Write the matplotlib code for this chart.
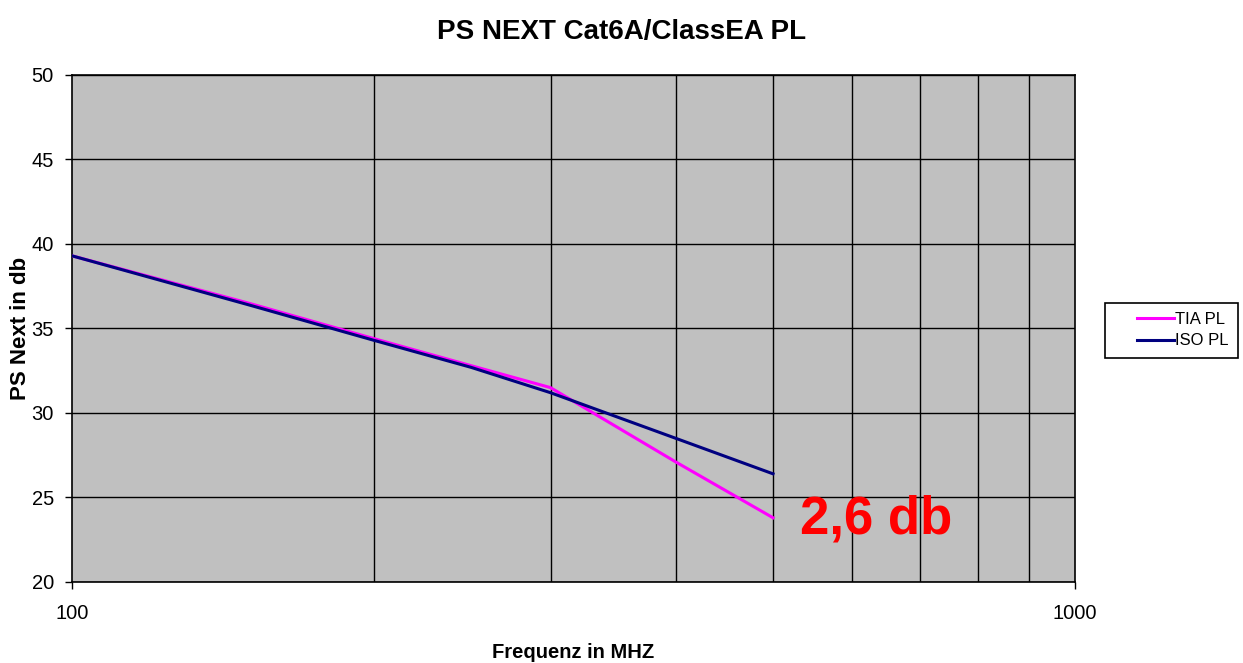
import matplotlib
matplotlib.use("Agg")
import numpy as np
import matplotlib.pyplot as plt
from matplotlib.lines import Line2D
from matplotlib.legend_handler import HandlerLine2D
from matplotlib.ticker import FixedLocator, NullFormatter

plt.rcParams['font.family'] = ['Liberation Sans', 'DejaVu Sans']

freq = [100, 150, 200, 250, 300, 400, 500]
tia_pl = [39.3, 36.5, 34.4, 32.8, 31.5, 27.1, 23.8]
iso_pl = [39.3, 36.4, 34.3, 32.7, 31.2, 28.5, 26.4]
y_ticks = [20, 25, 30, 35, 40, 45, 50]
x_ticks = [100, 1000]
x_minor = [200, 300, 400, 500, 600, 700, 800, 900]


class ShortLine(HandlerLine2D):
    """Legend handle whose line occupies only the right part of the handle box."""
    def create_artists(self, legend, orig_handle, xdescent, ydescent, width,
                       height, fontsize, trans):
        arts = super().create_artists(legend, orig_handle, xdescent, ydescent,
                                      width, height, fontsize, trans)
        for a in arts:
            if isinstance(a, Line2D):
                xd = np.asarray(a.get_xdata(), dtype=float)
                x1 = xd.max()
                a.set_xdata(np.linspace(x1 - 26.5, x1, len(xd)))
        return arts


fig = plt.figure(figsize=(12.43, 6.63), dpi=100)
ax = fig.add_axes([0.0579, 0.1222, 0.8069, 0.7647])
ax.set_facecolor('#c0c0c0')

ax.plot(freq, tia_pl, color='#ff00ff', lw=2.2, label='TIA PL', zorder=3)
ax.plot(freq, iso_pl, color='#000080', lw=2.2, label='ISO PL', zorder=4)

ax.set_xscale('log')
ax.set_xlim(100, 1000)
ax.set_ylim(20, 50)
ax.xaxis.set_major_locator(FixedLocator(x_ticks))
ax.xaxis.set_minor_locator(FixedLocator(x_minor))
ax.xaxis.set_minor_formatter(NullFormatter())
ax.set_xticklabels([str(v) for v in x_ticks])
ax.set_yticks(y_ticks)

ax.grid(True, which='major', axis='y', color='black', lw=1.0)
ax.grid(True, which='minor', axis='x', color='black', lw=1.0)
ax.set_axisbelow(True)

ax.tick_params(axis='x', which='major', direction='out', length=5, width=1,
               pad=11, labelsize=14.5)
ax.tick_params(axis='x', which='minor', length=0)
ax.tick_params(axis='y', direction='out', length=5, width=1, labelsize=14.5, pad=8)
for s in ax.spines.values():
    s.set_color('black')
    s.set_linewidth(1.2)

fig.suptitle('PS NEXT Cat6A/ClassEA PL', fontsize=20, fontweight='bold',
             x=0.5, y=0.952, va='center')
ax.set_xlabel('Frequenz in MHZ', fontsize=14.5, fontweight='bold')
ax.xaxis.set_label_coords(0.5, -0.121)
ax.set_ylabel('PS Next in db', fontsize=16, fontweight='bold')
ax.yaxis.set_label_coords(-0.041, 0.5)

ax.text(532, 23.7, '2,6 db', color='#ff0000', fontsize=38, fontweight='bold',
        ha='left', va='center')

leg = ax.legend(loc='center left', bbox_to_anchor=(1.03, 0.497), fontsize=12,
                frameon=True, fancybox=False, framealpha=1, edgecolor='black',
                handlelength=3.6, handletextpad=0.05, borderpad=0.55,
                labelspacing=0.4, borderaxespad=0,
                handler_map={Line2D: ShortLine()})
leg.get_frame().set_linewidth(1.2)

fig.savefig('out.png', dpi=100)
